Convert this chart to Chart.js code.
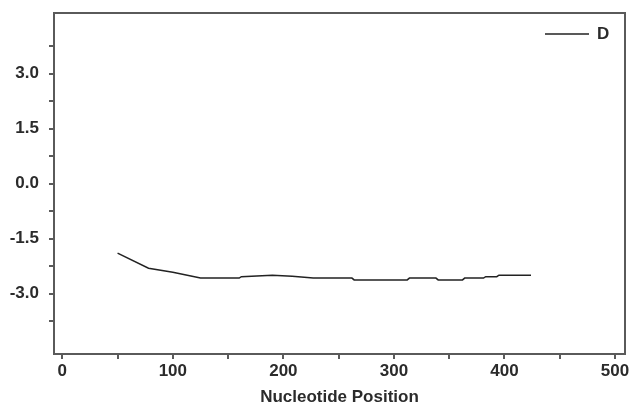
<!DOCTYPE html>
<html>
<head>
<meta charset="utf-8">
<script src="https://cdn.jsdelivr.net/npm/chart.js@4/dist/chart.umd.min.js"></script>
<style>
  html, body { margin: 0; padding: 0; background: #fff; }
  #wrap { width: 629px; height: 408px; }
</style>
</head>
<body>
<div id="wrap"><canvas id="plot"></canvas></div>
<script>
// nucleotide position vs value
const positions = [50, 78, 100, 125, 160, 162, 190, 208, 227, 262, 264, 312, 314, 338, 340, 362, 364, 381, 383, 393, 395, 424];
const valuesD   = [-1.9, -2.31, -2.42, -2.58, -2.58, -2.54, -2.5, -2.53, -2.58, -2.58, -2.63, -2.63, -2.58, -2.58, -2.63, -2.63, -2.58, -2.58, -2.54, -2.54, -2.5, -2.5];
const seriesName = "D";

const yTicks = [-3.75, -3.0, -2.25, -1.5, -0.75, 0.0, 0.75, 1.5, 2.25, 3.0, 3.75];
const xTicks = [0, 50, 100, 150, 200, 250, 300, 350, 400, 450, 500];

const axisColor = "#5a5a5a";
const textColor = "#2b2b2b";
const font = { family: "Liberation Sans", size: 17, weight: "bold" };

// frame round the plot area + little legend in the corner
const framePlugin = {
    id: "frame",
    afterDraw(chart) {
        const { ctx, chartArea: a } = chart;
        ctx.save();
        ctx.strokeStyle = axisColor;
        ctx.lineWidth = 2;
        ctx.strokeRect(a.left, a.top, a.right - a.left, a.bottom - a.top);

        ctx.strokeStyle = "#222";
        ctx.lineWidth = 1.5;
        ctx.beginPath();
        ctx.moveTo(a.right - 80, a.top + 21);
        ctx.lineTo(a.right - 36, a.top + 21);
        ctx.stroke();
        ctx.fillStyle = textColor;
        ctx.font = "bold 17px 'Liberation Sans'";
        ctx.textBaseline = "middle";
        ctx.fillText(chart.data.datasets[0].label, a.right - 28, a.top + 21);
        ctx.restore();
    }
};

new Chart(document.getElementById("plot"), {
    type: "line",
    data: {
        datasets: [{
            label: seriesName,
            data: positions.map((p, i) => ({ x: p, y: valuesD[i] })),
            borderColor: "#222",
            borderWidth: 1.5,
            pointRadius: 0,
            tension: 0
        }]
    },
    options: {
        responsive: true,
        maintainAspectRatio: false,
        animation: false,
        layout: { padding: { top: 13, right: 4, left: 0, bottom: 0 } },
        plugins: {
            legend: { display: false },
            tooltip: { enabled: false }
        },
        scales: {
            x: {
                type: "linear",
                min: -7.5,
                max: 509,
                afterBuildTicks: s => { s.ticks = xTicks.map(v => ({ value: v })); },
                afterFit: s => { s.height = 54; s.paddingLeft = 0; s.paddingRight = 0; },
                ticks: {
                    color: textColor,
                    font: font,
                    padding: 2,
                    maxRotation: 0,
                    autoSkip: false,
                    callback: v => (v % 100 === 0 ? String(v) : "")
                },
                grid: {
                    drawOnChartArea: false,
                    drawTicks: true,
                    tickLength: 5,
                    color: axisColor,
                    lineWidth: 2
                },
                border: { display: false },
                title: {
                    display: true,
                    text: "Nucleotide Position",
                    color: textColor,
                    font: font,
                    padding: { top: 3, bottom: 0 }
                }
            },
            y: {
                type: "linear",
                min: -4.65,
                max: 4.65,
                afterBuildTicks: s => { s.ticks = yTicks.map(v => ({ value: v })); },
                afterFit: s => { s.width = 54; s.paddingTop = 0; s.paddingBottom = 0; },
                ticks: {
                    color: textColor,
                    font: font,
                    padding: 10,
                    autoSkip: false,
                    callback: v => (Math.abs(v % 1.5) < 1e-9 ? v.toFixed(1) : "")
                },
                grid: {
                    drawOnChartArea: false,
                    drawTicks: true,
                    tickLength: 5,
                    color: axisColor,
                    lineWidth: 2
                },
                border: { display: false }
            }
        }
    },
    plugins: [framePlugin]
});
</script>
</body>
</html>
